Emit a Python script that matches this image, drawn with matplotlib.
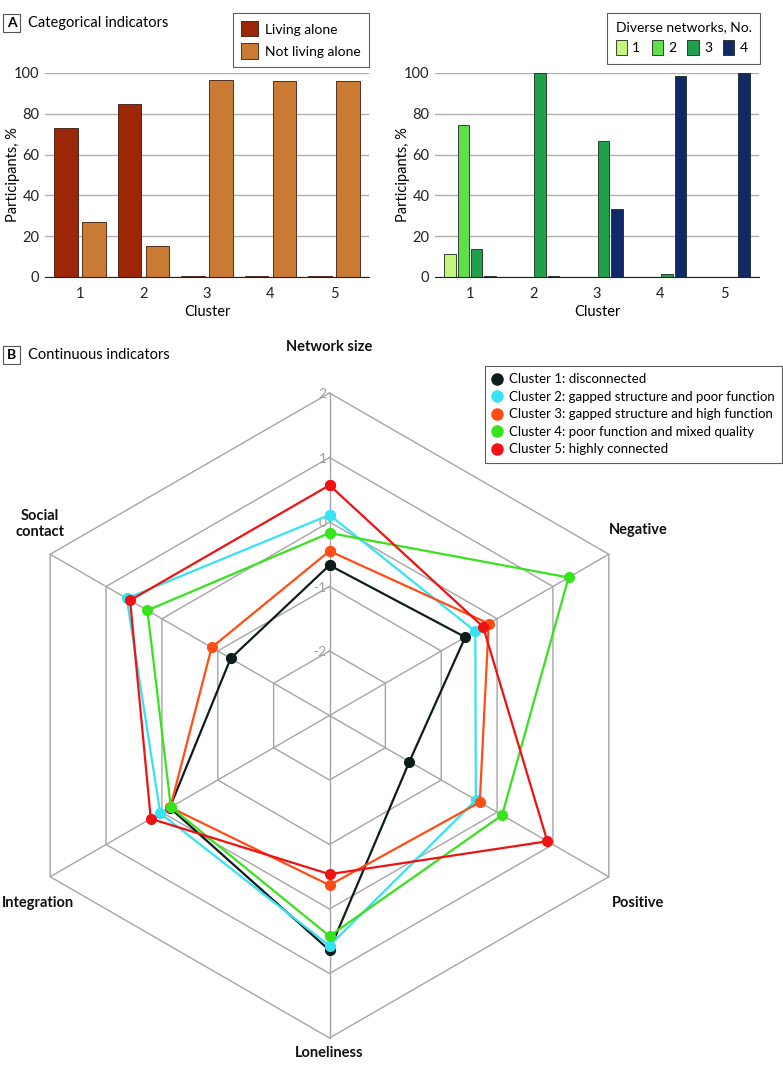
import numpy as np
import matplotlib
matplotlib.use("Agg")
import matplotlib.pyplot as plt
from matplotlib.patches import Patch
from matplotlib.lines import Line2D

plt.rcParams['font.family'] = ['Lato', 'DejaVu Sans']

W, H = 783, 1076

# panel A data
clusters = [1, 2, 3, 4, 5]
living_alone = [72.9, 84.8, 0.5, 0.5, 0.5]
not_living_alone = [27.0, 15.2, 96.4, 96.2, 96.2]

div_labels = ['1', '2', '3', '4']
div_1 = [11.3, 0, 0, 0, 0]
div_2 = [74.7, 0, 0, 0, 0]
div_3 = [13.7, 100, 66.7, 1.6, 0]
div_4 = [0.5, 0.3, 33.3, 98.4, 100]

# panel B data
radar_axes = ['Network size', 'Negative', 'Positive', 'Loneliness', 'Integration', 'Social contact']
cluster_names = ['Cluster 1: disconnected',
                 'Cluster 2: gapped structure and poor function',
                 'Cluster 3: gapped structure and high function',
                 'Cluster 4: poor function and mixed quality',
                 'Cluster 5: highly connected']
c1 = [-0.67, -0.57, -1.57, 0.64, -0.14, -1.23]
c2 = [0.11, -0.39, -0.38, 0.57, 0.03, 0.63]
c3 = [-0.45, -0.15, -0.31, -0.37, -0.15, -0.89]
c4 = [-0.17, 1.28, 0.09, 0.42, -0.16, 0.26]
c5 = [0.57, -0.25, 0.90, -0.54, 0.20, 0.57]
rings = [-2, -1, 0, 1, 2]

radar_colors = ['#0f1c1c', '#35e3f2', '#ff4d14', '#37e31c', '#f01212']


def fx(px):
    return px / W


def fy(py):
    return 1 - py / H


fig = plt.figure(figsize=(W / 100, H / 100), dpi=100)


def style_bar_ax(ax):
    ax.set_ylim(0, 100)
    ax.set_yticks([0, 20, 40, 60, 80, 100])
    ax.set_xticks(clusters)
    ax.set_xlim(0.45, 5.55)
    ax.yaxis.grid(True, color='#b0b0b0', lw=1)
    ax.set_axisbelow(True)
    for s in ['left', 'top', 'right']:
        ax.spines[s].set_visible(False)
    ax.spines['bottom'].set_color('#222222')
    ax.tick_params(length=0, labelsize=10.5, colors='#222222')
    ax.tick_params(axis='x', pad=7)
    ax.tick_params(axis='y', pad=4)
    ax.set_xlabel('Cluster', fontsize=10.5, labelpad=3)
    ax.set_ylabel('Participants, %', fontsize=10.5)
    ax.yaxis.set_label_coords(-0.078, 0.5)


x = np.array(clusters)

# left bar chart
ax1 = fig.add_axes([fx(45), fy(277), fx(324), 204 / H])
ax1.bar(x - 0.22, living_alone, 0.37, color='#9c2608', edgecolor='#3a1a0a', lw=0.6)
ax1.bar(x + 0.22, not_living_alone, 0.37, color='#c97a33', edgecolor='#3a1a0a', lw=0.6)
style_bar_ax(ax1)
h1 = [Patch(fc='#9c2608', ec='#3a1a0a', lw=0.6), Patch(fc='#c97a33', ec='#3a1a0a', lw=0.6)]
leg1 = fig.legend(h1, ['Living alone', 'Not living alone'], loc='upper right',
                  bbox_to_anchor=(fx(369), fy(13)), fontsize=10, frameon=True,
                  fancybox=False, edgecolor='#333333', handlelength=1.2, handleheight=1.3,
                  borderpad=0.6, labelspacing=0.5, handletextpad=0.5, borderaxespad=0)
leg1.get_frame().set_linewidth(0.8)

# right bar chart
ax2 = fig.add_axes([fx(435), fy(277), fx(324), 204 / H])
div_colors = ['#c4f57e', '#5fe048', '#21a04c', '#0f2a66']
for i, vals in enumerate([div_1, div_2, div_3, div_4]):
    ax2.bar(x + (i - 1.5) * 0.21, vals, 0.18, color=div_colors[i], edgecolor='#1a2a1a', lw=0.6)
style_bar_ax(ax2)
h2 = [Patch(fc=c, ec='#1a2a1a', lw=0.6) for c in div_colors]
leg2 = fig.legend(h2, div_labels, loc='upper right', ncol=4,
                  bbox_to_anchor=(fx(760), fy(13)), fontsize=10, frameon=True,
                  fancybox=False, edgecolor='#333333', handlelength=0.8, handleheight=1.3,
                  borderpad=0.6, columnspacing=0.8, handletextpad=0.4, borderaxespad=0,
                  title='Diverse networks, No.', title_fontsize=10)
leg2._legend_box.align = 'left'
leg2.get_frame().set_linewidth(0.8)

# panel labels
for letter, title, py in [('A', 'Categorical indicators', 23), ('B', 'Continuous indicators', 355)]:
    fig.text(fx(11.5), fy(py), letter, ha='center', va='center', fontsize=10, fontweight='bold',
             bbox=dict(boxstyle='square,pad=0.25', fc='white', ec='#555555', lw=0.8))
    fig.text(fx(28), fy(py), title, ha='left', va='center', fontsize=10.5)

# radar chart
R = 322.5
cx, cy = 329.5, 715.5
ax3 = fig.add_axes([fx(cx - R), fy(cy + R), 2 * R / W, 2 * R / H], projection='polar')
ax3.set_theta_offset(np.pi / 2)
ax3.set_theta_direction(-1)
ax3.set_ylim(-3, 2)
ax3.grid(False)
ax3.set_xticks([])
ax3.set_yticks([])
ax3.spines['polar'].set_visible(False)
ax3.patch.set_alpha(0)

angles = np.deg2rad(np.arange(0, 360, 60))
closed = np.append(angles, angles[0])
for lv in rings:
    ax3.plot(closed, [lv] * 7, color='#a5a5a5', lw=1, zorder=1, clip_on=False)
for a in angles:
    ax3.plot([a, a], [-3, 2], color='#a5a5a5', lw=1, zorder=1, clip_on=False)
for lv in rings:
    ax3.annotate(str(lv), xy=(0, lv), xytext=(-2, -1), textcoords='offset points',
                 ha='right', va='center', fontsize=10, color='#a0a0a0', zorder=2)

for vals, col, name in zip([c1, c2, c3, c4, c5], radar_colors, cluster_names):
    v = np.append(vals, vals[0])
    ax3.plot(closed, v, color=col, lw=1.6, marker='o', ms=7, zorder=3, clip_on=False)

handles = [Line2D([], [], ls='none', marker='o', ms=8, color=c) for c in radar_colors]
leg3 = fig.legend(handles, cluster_names, loc='upper right', bbox_to_anchor=(fx(782), fy(366)),
                  fontsize=9.5, frameon=True, fancybox=False, edgecolor='#333333',
                  handlelength=0.8, handletextpad=0.5, labelspacing=0.42, borderpad=0.55,
                  borderaxespad=0)
leg3.get_frame().set_linewidth(0.8)

lab_kw = dict(fontsize=10.5, fontweight='bold', color='#111111')
fig.text(fx(329), fy(347), 'Network size', ha='center', va='center', **lab_kw)
fig.text(fx(638), fy(530), 'Negative', ha='center', va='center', **lab_kw)
fig.text(fx(638), fy(903), 'Positive', ha='center', va='center', **lab_kw)
fig.text(fx(329), fy(1053), 'Loneliness', ha='center', va='center', **lab_kw)
fig.text(fx(38), fy(903), 'Integration', ha='center', va='center', **lab_kw)
fig.text(fx(40), fy(524), 'Social\ncontact', ha='center', va='center', linespacing=1.1, **lab_kw)

fig.savefig('out.png', dpi=100)
